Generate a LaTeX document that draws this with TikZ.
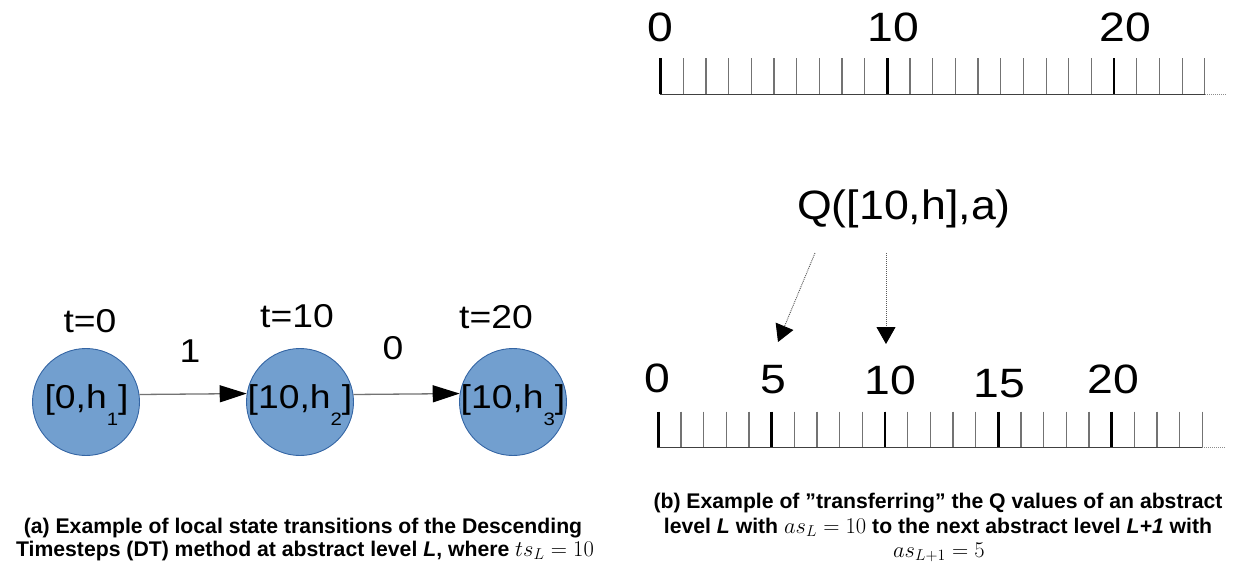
\RequirePackage{fix-cm}
\documentclass[tikz,border=0pt]{standalone}
\usepackage[no-math]{fontspec}
\setmainfont{Liberation Sans}
\usetikzlibrary{arrows.meta,calc}

\definecolor{statefill}{HTML}{729FCF}
\definecolor{stateline}{HTML}{3465A4}

% slightly widened sans text used in the drawing
\newcommand\wtext[1]{\scalebox{1.13}[1]{#1}}
% state label [t,h_i] with a dropped index
\newcommand\statelabel[2]{\wtext{[#1,h\raisebox{-17pt}{\fontsize{18}{18}\selectfont #2}]}}
% formulas inside the captions
\newcommand\capmath[1]{{\fontsize{22.5}{25}\selectfont$#1$}}

\tikzset{
  state/.style={circle, draw=stateline, line width=0.9pt, fill=statefill,
                minimum size=107pt, inner sep=0pt},
  slabel/.style={font=\fontsize{33}{33}\selectfont, inner sep=0pt, anchor=base},
  rnum/.style={font=\fontsize{41}{41}\selectfont, inner sep=0pt, anchor=base},
  trans/.style={draw=black!55, line width=1.3pt,
                -{Triangle[length=27pt,width=17pt,color=black]}},
  qarrow/.style={draw=black!65, line width=0.9pt, dash pattern=on 1pt off 1pt,
                 -{Triangle[length=17pt,width=19pt,color=black]}},
  minortick/.style={draw=black!55, line width=1.2pt},
  majortick/.style={draw=black, line width=2.7pt},
  rulerbase/.style={draw=black!75, line width=1.3pt},
  rulerend/.style={draw=black!45, line width=1.1pt, dash pattern=on 1pt off 1pt},
  caption/.style={font=\fontsize{21.2}{25}\selectfont\bfseries, inner sep=0pt, anchor=base},
}

\begin{document}
\begin{tikzpicture}[x=1pt, y=-1pt]
\useasboundingbox (0,0) rectangle (1234,568);
\fill[white] (0,0) rectangle (1234,568);

% ---------- (a) state transitions ----------
\node[state] (n1) at (86,402) {};
\node[state] (n2) at (300,402) {};
\node[state] (n3) at (513,402) {};

\node[slabel] (n1t) at (86.5,408) {\statelabel{0}{1}};
\node[slabel] (n2t) at (300,408) {\statelabel{10}{2}};
\node[slabel] (n3t) at (513,408) {\statelabel{10}{3}};

\node[slabel] (t1) at (90,332) {\wtext{t=0}};
\node[slabel] (t2) at (297,327) {\wtext{t=10}};
\node[slabel] (t3) at (496,328) {\wtext{t=20}};

\draw[trans] (n1.8.6) -- (n2.171.4);
\draw[trans] (n2.8.6) -- (n3.171.4);

\node[slabel] (a1) at (190,362) {\wtext{1}};
\node[slabel] (a2) at (393,359) {\wtext{0}};

% ---------- (b) upper ruler, step 10 ----------
\foreach \i in {0,...,24}
  \draw[minortick] ({660.7+22.67*\i},58.3) -- ++(0,36);
\foreach \i in {0,10,20}
  \draw[majortick] ({660.7+22.67*\i},58.3) -- ++(0,36);
\draw[rulerbase] (659.5,94.3) -- (1205.3,94.3);
\draw[rulerend] (1205.3,94.3) -- (1227,94.3);

\node[rnum] (u0)  at (660,41)  {\wtext{0}};
\node[rnum] (u10) at (893,41)  {\wtext{10}};
\node[rnum] (u20) at (1125,41) {\wtext{20}};

% ---------- Q value and its transfer ----------
\node[rnum] (q) at (904,219) {\scalebox{1.09}[1]{Q([10,h],a)}};

\coordinate (qa) at (815,253);
\coordinate (qb) at (886,253);
\coordinate (ta) at (778,342);
\coordinate (tb) at (886,344);
\draw[qarrow] (qa) -- (ta);
\draw[qarrow] (qb) -- (tb);

% ---------- (b) lower ruler, step 5 ----------
\foreach \i in {0,...,24}
  \draw[minortick] ({658.3+22.67*\i},411.7) -- ++(0,35.6);
\foreach \i in {0,5,10,15,20}
  \draw[majortick] ({658.3+22.67*\i},411.7) -- ++(0,35.6);
\draw[rulerbase] (656.7,447.3) -- (1202.4,447.3);
\draw[rulerend] (1202.4,447.3) -- (1225,447.3);

\node[rnum] (l0)  at (657,392)    {\wtext{0}};
\node[rnum] (l5)  at (773,393)    {\wtext{5}};
\node[rnum] (l10) at (890,394)    {\wtext{10}};
\node[rnum] (l15) at (999.5,397)  {\wtext{15}};
\node[rnum] (l20) at (1113.5,393) {\wtext{20}};

% ---------- captions ----------
\node[caption] (ca1) at (303,533) {(a) Example of local state transitions of the Descending};
\node[caption] (ca2) at (305,556) {Timesteps (DT) method at abstract level \textit{L}, where \capmath{ts_L = 10}};

\node[caption] (cb1) at (938,508) {(b) Example of ”transferring” the Q values of an abstract};
\node[caption] (cb2) at (938,533) {level \textit{L} with \capmath{as_L = 10} to the next abstract level \textit{L+1} with};
\node[caption] (cb3) at (939,557) {\capmath{as_{L+1} = 5}};
\end{tikzpicture}
\end{document}
